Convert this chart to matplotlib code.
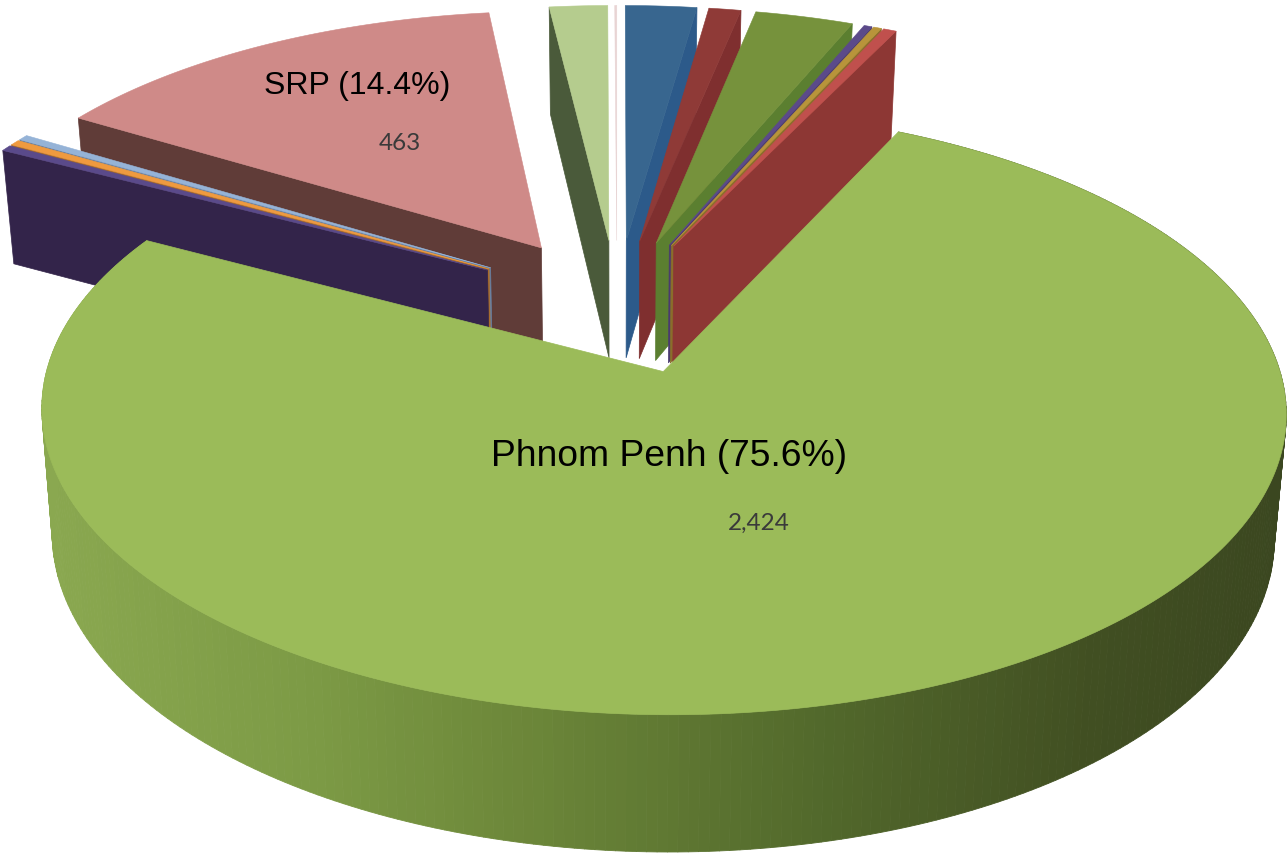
import numpy as np
import matplotlib
matplotlib.use("Agg")
import matplotlib.pyplot as plt
from matplotlib.collections import PolyCollection
from matplotlib.colors import LinearSegmentedColormap

# data, clockwise from 12 o'clock
names = ["a", "b", "c", "d", "e", "f", "Phnom Penh", "g", "h", "i", "SRP", "j", "k"]
values = [71, 32, 98, 8, 8, 13, 2424, 11, 10, 10, 463, 58, 2]
top_colors = ["#38668f", "#8f3a37", "#76923c", "#5b4a8a", "#b8943a", "#c0504d", "#9bbb59",
              "#5a4a8a", "#ef9a3f", "#95b3d7", "#cf8a88", "#b5cc8e", "#e8d4d4"]
wall_colors = ["#2c5a8a", "#7f2f2f", "#5b7f30", "#4a3a70", "#8a6e2a", "#8d3734", "#6d883a",
               "#33244a", "#a86c2c", "#6a80a0", "#603c38", "#4a5a3a", "#ffffff"]
explode = [0.23, 0.23, 0.23, 0.23, 0.23, 0.23, 0.25, 0.25, 0.25, 0.25, 0.24, 0.23, 0.23]

CX, CY, A, B, K, STEPS = 617, 303, 598, 280, 0.128, 160
pct_labels = {"Phnom Penh": "Phnom Penh (75.6%)", "SRP": "SRP (14.4%)"}
value_labels = {"Phnom Penh": "2,424", "SRP": "463"}

def project(x, y, z=0.0):
    x, y = np.asarray(x, float), np.asarray(y, float)
    s = 1 / (1 - K * y)
    return CX + A * x * s * (1 - 0.018 * z), CY + B * y * s + z * 120 * s ** 0.78

vals = np.array(values, float)
edges = np.concatenate([[0], np.cumsum(vals)]) / vals.sum() * 2 * np.pi

fig = plt.figure(figsize=(12.88, 8.56), dpi=100)
ax = fig.add_axes([0, 0, 1, 1])
ax.set_xlim(0, 1288)
ax.set_ylim(856, 0)
ax.axis("off")

def slice_geom(i):
    a0, a1 = edges[i], edges[i + 1]
    mid = (a0 + a1) / 2
    ex, ey = explode[i] * np.sin(mid), -explode[i] * np.cos(mid)
    th = np.linspace(a0, a1, max(3, int((a1 - a0) * 60)))
    return ex, ey, ex + np.sin(th), ey - np.cos(th)

def draw_small(i, wall_side):
    ex, ey, ax_x, ax_y = slice_geom(i)
    # straight side wall of the wedge
    j = 0 if wall_side == "start" else -1
    px, py = project([ex, ax_x[j]], [ey, ax_y[j]], 0)
    qx, qy = project([ex, ax_x[j]], [ey, ax_y[j]], 1)
    wall = np.column_stack([np.r_[px, qx[::-1]], np.r_[py, qy[::-1]]])
    ax.fill(wall[:, 0], wall[:, 1], color=wall_colors[i], lw=0.5, zorder=2 + order[i])
    tx, ty = project(np.r_[ex, ax_x], np.r_[ey, ax_y])
    ax.fill(tx, ty, color=top_colors[i], lw=0.4, zorder=2 + order[i])

pp = names.index("Phnom Penh")
order = {}
# the slices right of centre stack left to right, those left of centre right to left
n = len(values)
for rank, i in enumerate(list(range(0, pp))):
    order[i] = rank + 20
for rank, i in enumerate(range(n - 1, pp, -1)):
    order[i] = rank
for i in range(pp):
    draw_small(i, "end")
for i in range(pp + 1, n):
    draw_small(i, "start")

# main slice: curved outer wall with horizontal shading
ex, ey, ox, oy = slice_geom(pp)
ex -= 0.003
th = np.linspace(edges[pp], edges[pp + 1], STEPS * 2)
ox, oy = ex + np.sin(th), ey - np.cos(th)
tx, ty = project(ox, oy, 0)
bx, by = project(ox, oy, 1)
shade = LinearSegmentedColormap.from_list(
    "wall", [(0, "#8aa850"), (0.22, "#7c9a45"), (0.38, "#6d883a"),
             (0.62, "#536a2c"), (0.85, "#414f22"), (1, "#3b4720")])
quads, cols = [], []
for k in range(len(th) - 1):
    quads.append([(tx[k], ty[k]), (tx[k + 1], ty[k + 1]), (bx[k + 1], by[k + 1]), (bx[k], by[k])])
    cols.append(shade(np.clip((tx[k] - 43) / (1287 - 43), 0, 1)))
ax.add_collection(PolyCollection(quads, facecolors=cols, edgecolors=cols, linewidths=0.6, zorder=50))
sx, sy = project(np.r_[ex, ox], np.r_[ey, oy])
ax.fill(sx, sy, color=top_colors[pp], lw=0.5, zorder=51)

ax.text(669, 456, pct_labels["Phnom Penh"], ha="center", va="center", fontsize=26.8,
        family="Liberation Sans", color="black", zorder=60)
ax.text(357, 86, pct_labels["SRP"], ha="center", va="center", fontsize=23,
        family="Liberation Sans", color="black", zorder=60)
ax.text(759, 523, value_labels["Phnom Penh"], ha="center", va="center", fontsize=17.5,
        family="Lato", color="#3a3a3a", zorder=60)
ax.text(400, 143, value_labels["SRP"], ha="center", va="center", fontsize=17.5,
        family="Lato", color="#3a3a3a", zorder=60)

fig.savefig("out.png", dpi=100, facecolor="white")
